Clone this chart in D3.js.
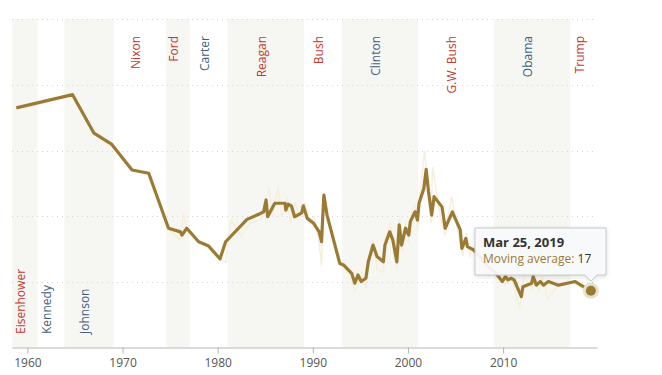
<!DOCTYPE html>
<html lang="en">
<head>
<meta charset="UTF-8" />
<title>Trust in government</title>
<style>
  body { margin: 0; background: #fff; }
  svg text { font-family: "Open Sans", "DejaVu Sans", sans-serif; }
  .x-axis path, .x-axis line { stroke: #b5b5b5; }
  .x-axis text { fill: #555; font-size: 12px; }
  .grid { stroke: #d4d4d4; stroke-dasharray: 1,4; }
</style>
</head>
<body>
<div id="chart"></div>
<script src="https://cdn.jsdelivr.net/npm/d3@7"></script>
<script>
// moving average
var maDates = ["1958-11-01","1964-10-01","1967-01-01","1968-11-01","1971-01-01","1972-10-01",
  "1974-11-01","1976-02-01","1976-04-01","1976-10-01","1978-01-01","1979-01-01","1980-04-01",
  "1980-11-01","1983-02-01","1984-07-01","1984-11-01","1985-02-01","1985-04-01","1986-01-01",
  "1987-02-01","1987-03-01","1987-06-01","1987-10-01","1988-02-01","1988-11-01","1989-01-01",
  "1989-06-01","1990-02-01","1990-09-01","1990-12-01","1991-03-01","1991-07-01","1992-11-01",
  "1993-04-01","1994-02-01","1994-06-01","1994-10-01","1995-02-01","1995-08-01","1995-11-01",
  "1996-05-01","1996-10-01","1997-06-01","1997-08-01","1998-02-01","1998-06-01","1998-11-01",
  "1999-02-01","1999-05-01","1999-10-01","2000-02-01","2000-04-01","2000-10-01","2001-01-01",
  "2001-03-01","2001-09-01","2001-12-01","2002-03-01","2002-07-01","2002-10-01","2003-08-01",
  "2003-12-01","2004-09-01","2005-07-01","2005-09-01","2006-02-01","2006-04-01","2006-12-01",
  "2007-08-01","2008-05-01","2009-03-01","2009-12-01","2010-04-01","2010-07-01","2010-11-01",
  "2011-03-01","2011-12-01","2012-02-01","2013-01-01","2013-03-01","2013-07-01","2013-12-01",
  "2014-04-01","2014-10-01","2015-11-01","2017-08-01","2018-07-01","2019-03-25"];
var maValues = [73,77,65.3,62,54.1,53.1,
  36.4,35.3,34.3,36.4,32.3,31.1,27.1,
  32.3,39.1,40.9,41.4,45,39.9,44,
  44,41.9,43.7,43.2,39.9,41.1,43.2,
  39.4,37.9,35.3,32.3,46.5,40.4,25.7,
  25.2,22.7,19.7,22.2,20.2,21.2,26.2,
  31.3,27.8,26.2,31.3,35.3,32.8,26.2,
  37.4,31.3,36.4,34.3,38.4,41.4,38.9,
  44,48.5,54.3,47.5,40.4,46,42.9,
  36.4,41.4,35.9,30.3,33.3,30.8,29.8,
  27.5,25,23,20.2,21.7,20.7,21.2,
  20.7,15.6,18.6,19.7,21.7,19.1,20.2,
  19.1,20.2,19.1,20.2,18.6,17.4];

// individual polls (the faint line behind)
var rawDates = ["1958-11-01","1964-10-01","1966-12-01","1968-11-01","1971-01-01","1972-10-01",
  "1974-11-01","1976-02-01","1976-06-01","1976-10-01","1978-01-01","1979-01-01","1980-04-01",
  "1980-11-01","1981-06-01","1982-06-01","1983-06-01","1984-08-01","1985-06-01","1985-10-01",
  "1986-05-01","1986-10-01","1987-04-01","1987-09-01","1988-03-01","1988-09-01","1989-03-01",
  "1989-10-01","1990-03-01","1990-09-01","1990-12-01","1991-03-01","1991-08-01","1992-06-01",
  "1993-01-01","1993-10-01","1994-06-01","1994-10-01","1995-03-01","1995-08-01","1995-12-01",
  "1996-05-01","1996-10-01","1997-06-01","1997-08-01","1998-03-01","1998-07-01","1998-11-01",
  "1999-02-01","1999-06-01","1999-10-01","2000-02-01","2000-05-01","2000-10-01","2001-01-01",
  "2001-04-01","2001-10-01","2002-02-01","2002-06-01","2002-08-01","2003-06-01","2003-12-01",
  "2004-08-01","2005-06-01","2005-10-01","2006-03-01","2006-07-01","2007-01-01","2007-08-01",
  "2008-06-01","2009-04-01","2009-12-01","2010-04-01","2010-09-01","2011-02-01","2011-10-01",
  "2012-03-01","2013-01-01","2013-04-01","2013-10-01","2014-03-01","2014-09-01","2015-10-01",
  "2017-04-01","2018-06-01","2019-03-25"];
var rawValues = [73,77,65,62,54,53,
  36,33,41,36,32,31,27,
  26,39,34,38,39,49,40,
  49,40,46,38,44,40,44,
  38,40,32,25,47,40,30,
  25,23,17,20,23,18,26,
  33,24,23,33,38,30,24,
  40,29,38,32,41,44,36,
  46,60,50,38,55,40,34,
  46,33,28,35,28,31,25,
  22,24,20,19,23,19,12,
  22,18,24,17,22,15,19,
  20,18,17];

// presidents
var presNames = ["Eisenhower","Kennedy","Johnson","Nixon","Ford","Carter","Reagan","Bush",
  "Clinton","G.W. Bush","Obama","Trump"];
var presStarts = ["1953-01-20","1961-01-20","1963-11-22","1969-01-20","1974-08-09","1977-01-20",
  "1981-01-20","1989-01-20","1993-01-20","2001-01-20","2009-01-20","2017-01-20"];
var presParty = ["R","D","D","R","R","D","R","R","D","R","D","R"];
var presLabelPos = ["bottom","bottom","bottom","top","top","top","top","top","top","top","top","top"];

var xTickYears = [1960,1970,1980,1990,2000,2010];
var yGridValues = [20,40,60,80,100];

var w = 662, h = 375;
var pLeft = 12, pRight = 597, pTop = 19, pBottom = 347;
var lineColor = "#9b7b34";
var partyColor = { R: "#c0392e", D: "#41607e" };

var parseDay = d3.timeParse("%Y-%m-%d");

var ma = maDates.map(function(d, i) { return { date: parseDay(d), value: maValues[i] }; });
var raw = rawDates.map(function(d, i) { return { date: parseDay(d), value: rawValues[i] }; });

var svg = d3.select("#chart")
  .append("svg")
  .attr("width", w)
  .attr("height", h);

var domainStart = new Date(1958, 4, 20);
var domainEnd = new Date(2019, 10, 15);

var xScale = d3.scaleTime()
  .domain([domainStart, domainEnd])
  .range([pLeft, pRight]);

var yScale = d3.scaleLinear()
  .domain([0, 100])
  .range([348, pTop]);

// shaded bands for every other president
var pres = presNames.map(function(n, i) {
  var s = parseDay(presStarts[i]);
  var e = i < presNames.length - 1 ? parseDay(presStarts[i + 1]) : domainEnd;
  if (s < domainStart) s = domainStart;
  return { name: n, start: s, end: e, party: presParty[i], pos: presLabelPos[i], shaded: i % 2 == 0 };
});

svg.selectAll("rect.band")
  .data(pres.filter(function(d) { return d.shaded; }))
  .enter()
  .append("rect")
  .attr("class", "band")
  .attr("x", function(d) { return xScale(d.start); })
  .attr("width", function(d) { return xScale(d.end) - xScale(d.start); })
  .attr("y", pTop)
  .attr("height", pBottom - pTop)
  .style("fill", "#f6f6f2");

// dotted gridlines
svg.selectAll("line.grid")
  .data(yGridValues)
  .enter()
  .append("line")
  .attr("class", "grid")
  .attr("x1", pLeft)
  .attr("x2", pRight)
  .attr("y1", function(d) { return Math.round(yScale(d)) + 0.5; })
  .attr("y2", function(d) { return Math.round(yScale(d)) + 0.5; });

// president names, rotated
svg.selectAll("text.pres")
  .data(pres)
  .enter()
  .append("text")
  .attr("class", "pres")
  .attr("transform", function(d) {
    var cx = (xScale(d.start) + xScale(d.end)) / 2;
    var cy = d.pos == "top" ? 36 : 334;
    return "translate(" + cx + "," + cy + ") rotate(-90)";
  })
  .attr("text-anchor", function(d) { return d.pos == "top" ? "end" : "start"; })
  .style("font-size", "12px")
  .style("fill", function(d) { return partyColor[d.party]; })
  .text(function(d) { return d.name; });

var line = d3.line()
  .x(function(d) { return xScale(d.date); })
  .y(function(d) { return yScale(d.value); });

svg.append("path")
  .datum(raw)
  .attr("d", line)
  .style("fill", "none")
  .style("stroke", "#f6efdc")
  .style("stroke-width", 1.5);

svg.append("path")
  .datum(ma)
  .attr("d", line)
  .style("fill", "none")
  .style("stroke", lineColor)
  .style("stroke-width", 3.2)
  .style("stroke-linejoin", "round");

// x axis
var xAxis = d3.axisBottom(xScale)
  .tickValues(xTickYears.map(function(y) { return new Date(y, 0, 1); }))
  .tickFormat(d3.timeFormat("%Y"))
  .tickSizeInner(6)
  .tickSizeOuter(0)
  .tickPadding(5);

svg.append("g")
  .attr("class", "x-axis")
  .attr("transform", "translate(0," + (pBottom + 0.5) + ")")
  .call(xAxis);

// highlighted last point
var last = ma[ma.length - 1];
var px = xScale(last.date), py = yScale(last.value);

svg.append("circle")
  .attr("cx", px).attr("cy", py).attr("r", 8)
  .style("fill", "#e8e1cd");
svg.append("circle")
  .attr("cx", px).attr("cy", py).attr("r", 5)
  .style("fill", lineColor);

// tooltip
var tip = svg.append("g").attr("class", "tooltip");
var bx = 475, by = 228, bw = 131, bh = 47;

tip.append("path")
  .attr("d", "M" + bx + "," + by + " h" + bw + " v" + bh + " H" + (px + 6) + " l-6,6 l-6,-6 H" + bx + " Z")
  .style("fill", "rgba(250,251,252,0.93)")
  .style("stroke", "#c9c9c9")
  .style("stroke-width", 1)
  .style("filter", "drop-shadow(0px 1px 2px rgba(0,0,0,0.15))");

tip.append("text")
  .attr("x", bx + 8)
  .attr("y", by + 19)
  .style("font-size", "13px")
  .style("font-weight", "bold")
  .style("fill", "#333")
  .text(d3.timeFormat("%b %-d, %Y")(last.date));

var t2 = tip.append("text")
  .attr("x", bx + 8)
  .attr("y", by + 35)
  .style("font-size", "12px");
t2.append("tspan").style("fill", lineColor).text("Moving average: ");
t2.append("tspan").style("fill", "#333").text(d3.format(".0f")(last.value));
</script>
</body>
</html>
